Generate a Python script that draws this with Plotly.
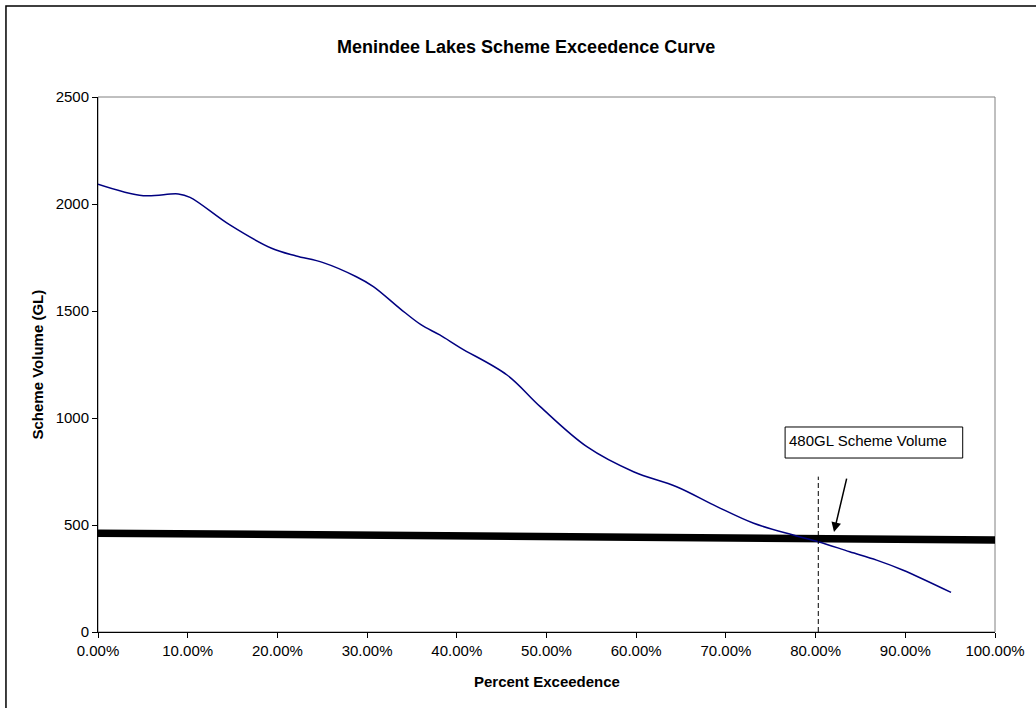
import plotly.graph_objects as go

# Exceedence curve for the Menindee Lakes scheme
pct_exceedence = [0.0, 0.0505, 0.0895, 0.1026, 0.147, 0.1935, 0.221, 0.251, 0.288,
                  0.307, 0.337, 0.360, 0.381, 0.404, 0.456, 0.493, 0.545, 0.597,
                  0.645, 0.690, 0.731, 0.775, 0.803, 0.838, 0.868, 0.897, 0.951]
scheme_volume = [2093, 2039, 2047, 2031, 1902, 1793, 1757, 1726, 1660,
                 1614, 1510, 1436, 1388, 1328, 1201, 1053, 866, 749,
                 679, 586, 508, 453, 422, 375, 336, 290, 185]

# Heavy reference line across the chart
ref_x = [0.0, 1.0]
ref_vol = [462, 430]

# Marker for where the curve meets the reference line
marker_pct = 0.803
marker_top = 726
label_text = "480GL Scheme Volume"

FONT = "Arial, Liberation Sans, sans-serif"

fig = go.Figure()

fig.add_trace(go.Scatter(
    x=ref_x, y=ref_vol, mode="lines",
    line=dict(color="black", width=7.5),
    showlegend=False, hoverinfo="skip",
))

fig.add_trace(go.Scatter(
    x=pct_exceedence, y=scheme_volume, mode="lines",
    line=dict(color="#000080", width=1.5, shape="spline", smoothing=1.0),
    showlegend=False,
))

fig.add_trace(go.Scatter(
    x=[marker_pct, marker_pct], y=[0, marker_top], mode="lines",
    line=dict(color="black", width=1, dash="5px,3px"),
    showlegend=False, hoverinfo="skip",
))

shapes = [
    # grey plot-area frame (top/right)
    dict(type="rect", xref="paper", yref="paper", x0=0, x1=1, y0=0, y1=1,
         line=dict(color="#808080", width=1), layer="below"),
    # outer chart border
    dict(type="rect", xref="paper", yref="paper", x0=-0.1026, x1=1.06,
         y0=-0.16, y1=1.170, line=dict(color="black", width=1.5)),
    # label box
    dict(type="rect", xref="x", yref="y", x0=0.766, x1=0.964, y0=813, y1=958,
         line=dict(color="black", width=1), fillcolor="white"),
]

annotations = [
    dict(text="<b>Menindee Lakes Scheme Exceedence Curve</b>", xref="paper", yref="paper",
         x=0.477, y=1.0935, showarrow=False, font=dict(size=18, color="black"),
         xanchor="center", yanchor="middle"),
    dict(text="<b>Percent Exceedence</b>", xref="paper", yref="paper",
         x=0.5, y=-0.0916, showarrow=False, font=dict(size=15, color="black"),
         xanchor="center", yanchor="middle"),
    dict(text="<b>Scheme Volume (GL)</b>", xref="paper", yref="paper",
         x=-0.068, y=0.5, showarrow=False, textangle=-90,
         font=dict(size=15, color="black"), xanchor="center", yanchor="middle"),
    dict(text=label_text, xref="x", yref="y", x=0.768, y=958, showarrow=False,
         xanchor="left", yanchor="top", yshift=-3, font=dict(size=15, color="black")),
    dict(x=0.8205, y=467, ax=0.835, ay=724, xref="x", yref="y", axref="x", ayref="y",
         text="", showarrow=True, arrowhead=2, arrowsize=1.3, arrowwidth=1.5,
         arrowcolor="black"),
]

fig.update_layout(
    width=1036, height=708,
    margin=dict(l=98, r=41, t=97, b=76),
    paper_bgcolor="white", plot_bgcolor="white",
    font=dict(family=FONT, size=15, color="black"),
    shapes=shapes, annotations=annotations,
    xaxis=dict(range=[0, 1], tickvals=[i / 10 for i in range(11)], tickformat=".2%",
               showgrid=False, zeroline=False, showline=True, linecolor="black",
               linewidth=1, ticks="outside", ticklen=5, tickcolor="black",
               tickfont=dict(size=15)),
    yaxis=dict(range=[0, 2500], tickvals=[0, 500, 1000, 1500, 2000, 2500],
               showgrid=False, zeroline=False, showline=True, linecolor="black",
               linewidth=1, ticks="outside", ticklen=5, tickcolor="black",
               tickfont=dict(size=15)),
)

fig.write_html("out.html")
